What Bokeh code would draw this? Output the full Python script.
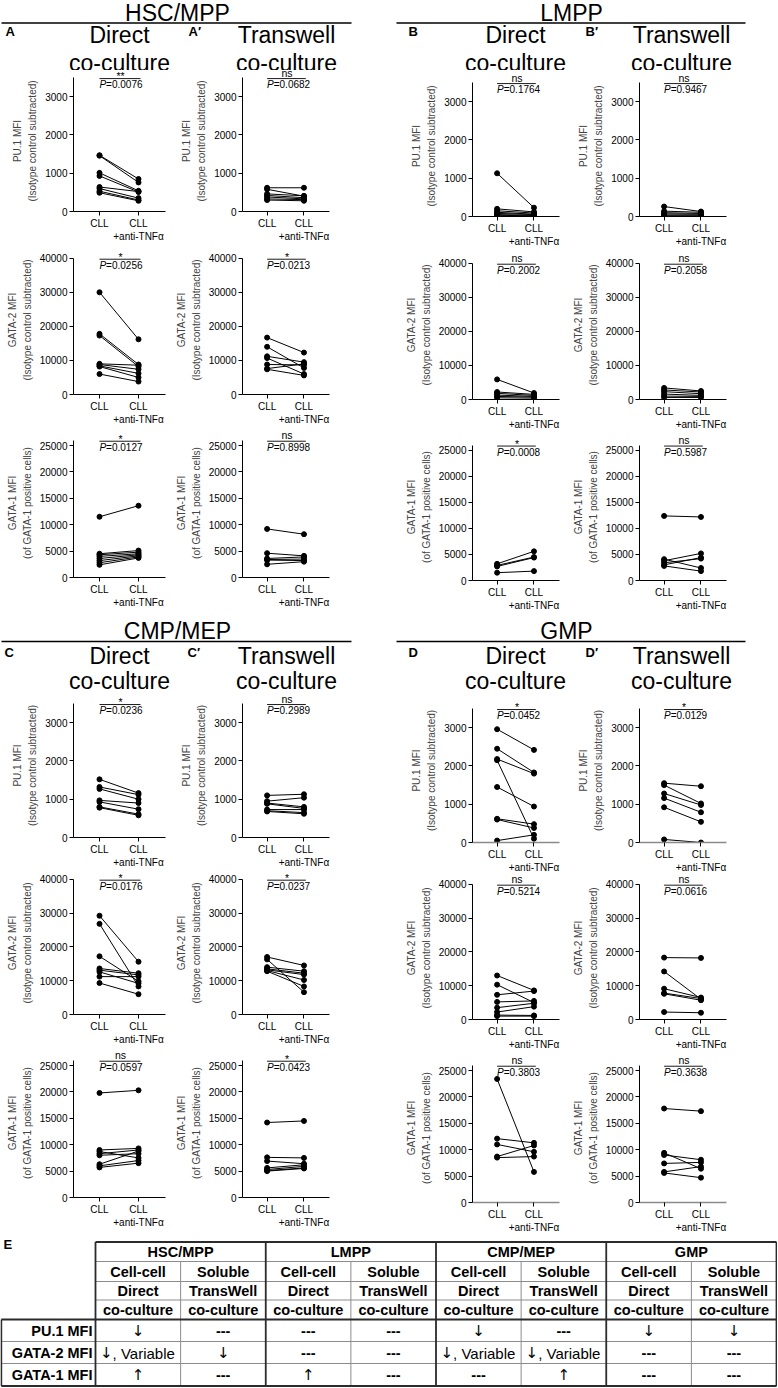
from bokeh.plotting import figure
from bokeh.models import Range1d, FixedTicker, ColumnDataSource, Spacer
from bokeh.layouts import column, row
from bokeh.embed import file_html
from bokeh.resources import INLINE
from bokeh.core.properties import value

FONT = "Liberation Sans"
ARROW_FONT = "DejaVu Sans"

# ---------------- data ----------------
categories = ["CLL", "CLL\n+anti-TNFα"]
populations = ["HSC/MPP", "LMPP", "CMP/MEP", "GMP"]
panel_letters = ["A", "B", "C", "D"]
conditions = ["Direct\nco-culture", "Transwell\nco-culture"]
markers = ["PU1", "GATA2", "GATA1"]

# HSC/MPP direct
hsc_dir_pu1_cll = [1470, 1460, 1010, 930, 640, 600, 530, 490]
hsc_dir_pu1_anti = [850, 760, 540, 510, 520, 350, 300, 280]
hsc_dir_g2_cll = [30000, 17800, 17300, 9000, 8800, 8400, 8200, 6000]
hsc_dir_g2_anti = [16200, 8800, 8200, 8600, 7400, 6200, 5000, 3800]
hsc_dir_g1_cll = [11500, 4500, 4300, 4000, 3600, 3200, 2800, 2400]
hsc_dir_g1_anti = [13600, 5100, 4800, 4500, 4300, 4100, 3900, 3700]
# HSC/MPP transwell
hsc_tw_pu1_cll = [620, 580, 460, 420, 380, 330, 300]
hsc_tw_pu1_anti = [620, 400, 410, 360, 330, 310, 280]
hsc_tw_g2_cll = [16700, 14000, 11200, 10700, 8800, 7600, 7400]
hsc_tw_g2_anti = [12300, 7800, 9500, 6000, 8700, 9000, 5600]
hsc_tw_g1_cll = [9200, 4600, 3600, 3400, 3300, 2500]
hsc_tw_g1_anti = [8200, 4100, 3900, 3500, 3200, 3000]
# LMPP direct
lmpp_dir_pu1_cll = [1130, 200, 150, 110, 80, 50, 30]
lmpp_dir_pu1_anti = [230, 120, 90, 60, 50, 30, 20]
lmpp_dir_g2_cll = [5900, 2200, 1800, 1300, 900, 500]
lmpp_dir_g2_anti = [1900, 1500, 1200, 900, 700, 400]
lmpp_dir_g1_cll = [3200, 2900, 2700, 1500]
lmpp_dir_g1_anti = [5600, 4500, 4400, 1800]
# LMPP transwell
lmpp_tw_pu1_cll = [260, 140, 100, 70, 40, 20]
lmpp_tw_pu1_anti = [130, 110, 80, 60, 40, 20]
lmpp_tw_g2_cll = [3400, 2800, 2300, 1600, 1000, 600]
lmpp_tw_g2_anti = [2500, 2200, 1700, 1200, 900, 600]
lmpp_tw_g1_cll = [12400, 4100, 3800, 3400, 3000, 2800]
lmpp_tw_g1_anti = [12200, 2400, 5200, 4200, 4400, 1800]
# CMP/MEP direct
cmp_dir_pu1_cll = [1520, 1320, 1270, 970, 930, 800, 780]
cmp_dir_pu1_anti = [1160, 1120, 1000, 900, 740, 610, 580]
cmp_dir_g2_cll = [29200, 26800, 17200, 13600, 13100, 12600, 11200, 9300]
cmp_dir_g2_anti = [15600, 8300, 9800, 12200, 11700, 9200, 11200, 6000]
cmp_dir_g1_cll = [19800, 9000, 8700, 8300, 8000, 6300, 6000, 5700]
cmp_dir_g1_anti = [20300, 9300, 7500, 9000, 8300, 8800, 7000, 6500]
# CMP/MEP transwell
cmp_tw_pu1_cll = [1100, 950, 900, 880, 730, 700, 680]
cmp_tw_pu1_anti = [1130, 1040, 800, 760, 730, 650, 620]
cmp_tw_g2_cll = [17000, 16300, 14000, 13500, 13200, 13000, 12800]
cmp_tw_g2_anti = [14500, 6600, 12800, 12200, 11800, 10200, 8300]
cmp_tw_g1_cll = [14200, 7600, 6900, 5600, 5300, 5100, 5000]
cmp_tw_g1_anti = [14500, 7500, 6400, 6200, 5900, 5600, 5500]
# GMP direct
gmp_dir_pu1_cll = [2960, 2450, 2180, 2150, 1450, 620, 600, 50]
gmp_dir_pu1_anti = [2420, 1830, 1800, 100, 940, 480, 380, 200]
gmp_dir_g2_cll = [13000, 10300, 7300, 5200, 3500, 2200, 1300, 1000]
gmp_dir_g2_anti = [8600, 5000, 8400, 5500, 4800, 3800, 1200, 1000]
gmp_dir_g1_cll = [23400, 12100, 11000, 8700, 8500]
gmp_dir_g1_anti = [5800, 11300, 9600, 10800, 8700]
# GMP transwell
gmp_tw_pu1_cll = [1550, 1500, 1280, 1160, 920, 80]
gmp_tw_pu1_anti = [1470, 1020, 980, 790, 540, 0]
gmp_tw_g2_cll = [18300, 14200, 9100, 7800, 7600, 2200]
gmp_tw_g2_anti = [18200, 6000, 6500, 6200, 5700, 2000]
gmp_tw_g1_cll = [17800, 9400, 9000, 7400, 5800, 5600]
gmp_tw_g1_anti = [17300, 6400, 8100, 7600, 6800, 4700]

# significance (PU.1, GATA-2, GATA-1)
hsc_dir_sig = ["**", "*", "*"];   hsc_dir_p = ["0.0076", "0.0256", "0.0127"]
hsc_tw_sig = ["ns", "*", "ns"];   hsc_tw_p = ["0.0682", "0.0213", "0.8998"]
lmpp_dir_sig = ["ns", "ns", "*"]; lmpp_dir_p = ["0.1764", "0.2002", "0.0008"]
lmpp_tw_sig = ["ns", "ns", "ns"]; lmpp_tw_p = ["0.9467", "0.2058", "0.5987"]
cmp_dir_sig = ["*", "*", "ns"];   cmp_dir_p = ["0.0236", "0.0176", "0.0597"]
cmp_tw_sig = ["ns", "*", "*"];    cmp_tw_p = ["0.2989", "0.0237", "0.0423"]
gmp_dir_sig = ["*", "ns", "ns"];  gmp_dir_p = ["0.0452", "0.5214", "0.3803"]
gmp_tw_sig = ["*", "ns", "ns"];   gmp_tw_p = ["0.0129", "0.0616", "0.3638"]

# summary table
table_subheads = [["Cell-cell", "Soluble"], ["Direct", "TransWell"], ["co-culture", "co-culture"]]
table_rows = ["PU.1 MFI", "GATA-2 MFI", "GATA-1 MFI"]
table_cells = [
    ["↓", "---", "---", "---", "↓", "---", "↓", "↓"],
    ["↓, Variable", "↓", "---", "---", "↓, Variable", "↓, Variable", "---", "---"],
    ["↑", "---", "↑", "---", "---", "↑", "---", "---"],
]

PANELS = {
    ("HSC/MPP", 0): [(hsc_dir_pu1_cll, hsc_dir_pu1_anti), (hsc_dir_g2_cll, hsc_dir_g2_anti), (hsc_dir_g1_cll, hsc_dir_g1_anti), hsc_dir_sig, hsc_dir_p],
    ("HSC/MPP", 1): [(hsc_tw_pu1_cll, hsc_tw_pu1_anti), (hsc_tw_g2_cll, hsc_tw_g2_anti), (hsc_tw_g1_cll, hsc_tw_g1_anti), hsc_tw_sig, hsc_tw_p],
    ("LMPP", 0): [(lmpp_dir_pu1_cll, lmpp_dir_pu1_anti), (lmpp_dir_g2_cll, lmpp_dir_g2_anti), (lmpp_dir_g1_cll, lmpp_dir_g1_anti), lmpp_dir_sig, lmpp_dir_p],
    ("LMPP", 1): [(lmpp_tw_pu1_cll, lmpp_tw_pu1_anti), (lmpp_tw_g2_cll, lmpp_tw_g2_anti), (lmpp_tw_g1_cll, lmpp_tw_g1_anti), lmpp_tw_sig, lmpp_tw_p],
    ("CMP/MEP", 0): [(cmp_dir_pu1_cll, cmp_dir_pu1_anti), (cmp_dir_g2_cll, cmp_dir_g2_anti), (cmp_dir_g1_cll, cmp_dir_g1_anti), cmp_dir_sig, cmp_dir_p],
    ("CMP/MEP", 1): [(cmp_tw_pu1_cll, cmp_tw_pu1_anti), (cmp_tw_g2_cll, cmp_tw_g2_anti), (cmp_tw_g1_cll, cmp_tw_g1_anti), cmp_tw_sig, cmp_tw_p],
    ("GMP", 0): [(gmp_dir_pu1_cll, gmp_dir_pu1_anti), (gmp_dir_g2_cll, gmp_dir_g2_anti), (gmp_dir_g1_cll, gmp_dir_g1_anti), gmp_dir_sig, gmp_dir_p],
    ("GMP", 1): [(gmp_tw_pu1_cll, gmp_tw_pu1_anti), (gmp_tw_g2_cll, gmp_tw_g2_anti), (gmp_tw_g1_cll, gmp_tw_g1_anti), gmp_tw_sig, gmp_tw_p],
}

KINDS = {
    "PU1": dict(label="PU.1 MFI\n(Isotype control subtracted)", ticks=[0, 1000, 2000, 3000], top=3500, px=38.8 / 1000),
    "GATA2": dict(label="GATA-2 MFI\n(Isotype control subtracted)", ticks=[0, 10000, 20000, 30000, 40000], top=40000, px=34.3 / 10000),
    "GATA1": dict(label="GATA-1 MFI\n(of GATA-1 positive cells)", ticks=[0, 5000, 10000, 15000, 20000, 25000], top=26000, px=26.4 / 5000),
}

# ---------------- layout geometry ----------------
W = 777
FRAME_W = 92
X0, X1 = 0.333, 2.692
COL_W = [172, 230, 167, 208]
COL_LEFT = [73, 65, 65, 65]
GEOM = {
    (0, "L"): [(0, 143, 32), (0, 150, 33), (0, 149, 37)],
    (0, "R"): [(0, 143, 32), (0, 150, 33), (0, 149, 32)],
    (1, "L"): [(0, 146, 32), (0, 145, 32), (0, 149, 39)],
    (1, "R"): [(0, 146, 32), (0, 145, 32), (0, 149, 34)],
}
xpos = {c: i + 1 for i, c in enumerate(categories)}


def make_plot(cll, anti, kind, sig, pval, fig_w, left, top_b, frame_h, bottom_b, grey_x=False):
    k = KINDS[kind]
    p = figure(width=fig_w, height=top_b + frame_h + bottom_b, title=None,
               x_range=Range1d(X0, X1), y_range=Range1d(0, frame_h / k["px"]),
               output_backend="svg", toolbar_location=None,
               min_border_left=left, min_border_right=fig_w - left - FRAME_W,
               min_border_top=top_b, min_border_bottom=bottom_b)
    p.outline_line_color = None
    p.grid.visible = False
    src = ColumnDataSource(dict(x0=[xpos[categories[0]]] * len(cll), y0=cll,
                                x1=[xpos[categories[1]]] * len(anti), y1=anti))
    p.segment(x0="x0", y0="y0", x1="x1", y1="y1", source=src, line_color="black", line_width=1)
    p.scatter(x="x0", y="y0", source=src, size=5, color="black")
    p.scatter(x="x1", y="y1", source=src, size=5, color="black")

    top = k["top"]
    bar = top - 1.0 / k["px"]
    p.segment(x0=[xpos[categories[0]]], y0=[bar], x1=[xpos[categories[1]] + 0.05], y1=[bar],
              line_color="black", line_width=0.9)
    mid = (xpos[categories[0]] + xpos[categories[1]]) / 2 + 0.04
    p.text(x=[mid], y=[bar], text=[sig], text_align="center", text_baseline="middle",
           y_offset=(-2.2 if sig != "ns" else -6),
           text_font=value(FONT), text_font_size="10.5px", text_color="black")
    p.text(x=[xpos[categories[0]]], y=[bar], text=["P"], text_align="left", text_baseline="top",
           y_offset=0.5, text_font=value(FONT), text_font_style="italic",
           text_font_size="10px", text_color="black")
    p.text(x=[xpos[categories[0]]], y=[bar], text=["=" + pval], text_align="left", text_baseline="top",
           y_offset=0.5, x_offset=6.6, text_font=value(FONT),
           text_font_size="10px", text_color="black")

    yax = p.yaxis[0]
    yax.ticker = FixedTicker(ticks=k["ticks"])
    yax.bounds = (0, top)
    yax.axis_label = k["label"]
    yax.axis_label_text_font = FONT
    yax.axis_label_text_font_size = "10px"
    yax.axis_label_text_font_style = "normal"
    yax.axis_label_text_line_height = 1.35
    yax.axis_label_standoff = 4
    xax = p.xaxis[0]
    xax.ticker = FixedTicker(ticks=[xpos[c] for c in categories])
    xax.major_label_overrides = {xpos[c]: c for c in categories}
    xax.major_label_text_line_height = 1.25
    for ax in (xax, yax):
        ax.major_label_text_font = FONT
        ax.major_label_text_font_size = "10px"
        ax.major_label_text_color = "black"
        ax.major_label_standoff = 2
        ax.major_tick_out = 4
        ax.major_tick_in = 0
        ax.minor_tick_out = 0
        ax.minor_tick_in = 0
        ax.axis_line_color = "black"
        ax.axis_line_width = 1
        ax.major_tick_line_color = "black"
    if grey_x:
        xax.axis_line_color = "#8a8a8a"
        xax.axis_line_width = 1.6
    return p


def canvas(h, y_top):
    p = figure(width=W, height=h, title=None, x_range=Range1d(0, W),
               y_range=Range1d(y_top + h, y_top), min_border=0,
               x_axis_type=None, y_axis_type=None,
               output_backend="svg", toolbar_location=None)
    p.outline_line_color = None
    p.grid.visible = False
    return p


def txt(p, x, y, s, size, align="center", style="normal", baseline="middle", font=FONT):
    p.text(x=x, y=y, text=s, text_align=align, text_baseline=baseline,
           text_font=value(font), text_font_size=size, text_font_style=style, text_color="black")


def header(y_top, h, pops, centers, title_c, rule_y, letters_c, cond_c, cond_gap, letter_x, suffix):
    p = canvas(h, y_top)
    rules = [(1, 351), (396, 745)]
    txt(p, centers, [title_c] * 2, pops, "23px")
    p.segment(x0=[r[0] for r in rules], y0=[rule_y] * 2, x1=[r[1] for r in rules], y1=[rule_y] * 2,
              line_color="black", line_width=1.7)
    letters = []
    for L in suffix:
        letters += [L, L + "′"]
    txt(p, letter_x, [letters_c] * 4, letters, "13px", align="left", style="bold")
    cond_x = [119, 286, 515, 681]
    words1 = [conditions[i % 2].split("\n")[0] for i in range(4)]
    words2 = [conditions[i % 2].split("\n")[1] for i in range(4)]
    txt(p, cond_x, [cond_c] * 4, words1, "23px")
    txt(p, cond_x, [cond_c + cond_gap] * 4, words2, "23px")
    return p


def section(s, pops):
    cols = []
    for ci in range(4):
        pop = pops[ci // 2]
        cond = ci % 2
        side = "L" if ci < 2 else "R"
        data = PANELS[(pop, cond)]
        items = []
        if side == "R":
            items.append(Spacer(width=COL_W[ci], height=5))
        for ri, kind in enumerate(markers):
            tb_, fh, bb = GEOM[(s, side)][ri]
            cll, anti = data[ri]
            grey_x = (pop == "GMP" and kind != "GATA2")
            items.append(make_plot(cll, anti, kind, data[3][ri], data[4][ri],
                                   COL_W[ci], COL_LEFT[ci], tb_, fh, bb, grey_x))
        cols.append(column(*items, spacing=0))
    return row(*cols, spacing=0)


h1 = header(0, 70, populations[:2], [177, 571], 12.9, 22.5, 31, 34.5, 27.5, [5, 188, 408, 585], panel_letters[:2])
sec1 = section(0, populations[:2])
h2 = header(614, 79, populations[2:], [177, 566], 630, 641, 652, 655, 25, [4, 187, 408, 585], panel_letters[2:])
sec2 = section(1, populations[2:])

# ---------------- table ----------------
tb = canvas(151, 1236)
xl, xs, xr = 0.8, 95, 776
gw = (xr - xs) / 4
ys = [1241.5, 1261, 1281, 1299.5, 1319, 1341, 1363, 1385.5]
dark, grey = "#2b2b2b", "#8c8c8c"
gx = [xs + i * gw for i in range(5)]
sx = [xs + (i + 0.5) * gw for i in range(4)]
# grey lines
tb.segment(x0=[xs] * 3 + [xl, xl], y0=ys[1:4] + ys[5:7], x1=[xr] * 5, y1=ys[1:4] + ys[5:7],
           line_color=grey, line_width=1)
tb.segment(x0=sx, y0=[ys[1]] * 4, x1=sx, y1=[ys[7]] * 4, line_color=grey, line_width=1)
# dark lines
tb.segment(x0=[xs, xl, xl], y0=[ys[0], ys[4], ys[7]], x1=[xr] * 3, y1=[ys[0], ys[4], ys[7]],
           line_color=dark, line_width=1.8)
tb.segment(x0=gx + [xl], y0=[ys[0]] * 5 + [ys[4]], x1=gx + [xl], y1=[ys[7]] * 6,
           line_color=dark, line_width=1.8)
txt(tb, [3], [1243.5], ["E"], "13px", align="left", style="bold")
txt(tb, [xs + (i + 0.5) * gw for i in range(4)], [(ys[0] + ys[1]) / 2 + 0.5] * 4, populations,
    "14.5px", style="bold")
for r in range(3):
    xcs, labs = [], []
    for g in range(4):
        for j in range(2):
            xcs.append(xs + g * gw + (j + 0.5) * gw / 2)
            labs.append(table_subheads[r][j])
    txt(tb, xcs, [(ys[r + 1] + ys[r + 2]) / 2 + 0.5] * 8, labs, "14.5px", style="bold")
txt(tb, [92] * 3, [(ys[4 + r] + ys[5 + r]) / 2 + 0.5 for r in range(3)], table_rows, "14.5px",
    align="right", style="bold")
for r in range(3):
    xcs = [xs + (i + 0.5) * gw / 2 for i in range(8)]
    yc = (ys[4 + r] + ys[5 + r]) / 2 + 0.5
    for i, cell in enumerate(table_cells[r]):
        if cell == "---":
            txt(tb, [xcs[i]], [yc], [cell], "14.5px", style="bold")
        elif "," in cell:
            arrow, rest = cell.split(",", 1)
            anchor = xcs[i] - 38 + 12.5
            txt(tb, [anchor], [yc], [arrow], "15px", align="right", font=ARROW_FONT)
            txt(tb, [anchor], [yc], ["," + rest], "15px", align="left")
        else:
            txt(tb, [xcs[i]], [yc], [cell], "15px", font=ARROW_FONT)

layout = column(h1, sec1, h2, sec2, tb, spacing=0)
open("out.html", "w").write(file_html(layout, INLINE))
